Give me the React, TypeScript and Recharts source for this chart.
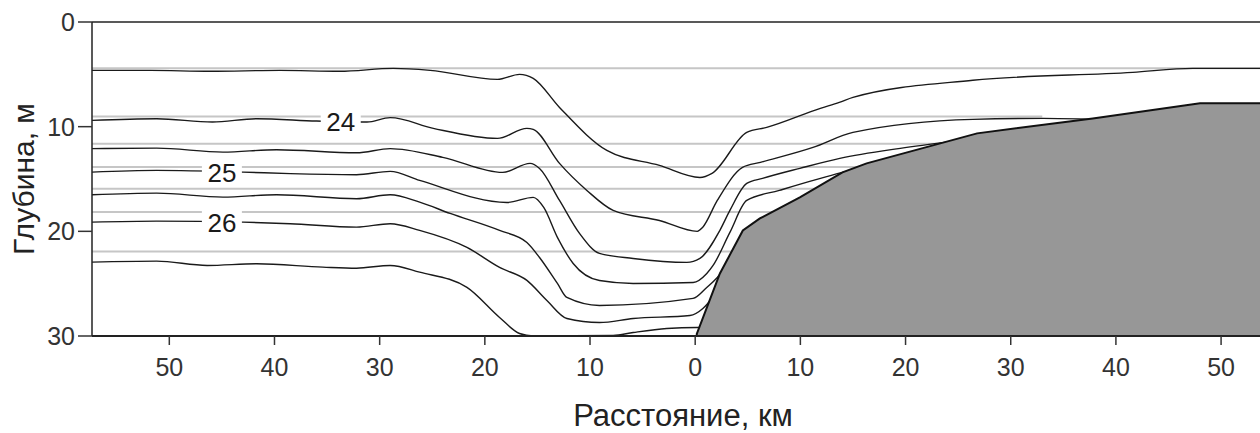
import React from 'react';
import {
  ComposedChart,
  Line,
  Area,
  XAxis,
  YAxis,
  ReferenceLine,
  ReferenceDot,
} from 'recharts';

// Isotherms, pairs of [distance km, depth m]; negative km = left of the 0 mark
const iso235: [number, number][] = [
  [-57.35, 4.62], [-51.8, 4.62], [-46.1, 4.71], [-39.5, 4.62], [-33.8, 4.71],
  [-28.7, 4.43], [-25.2, 4.62], [-18.8, 5.48], [-16.7, 5.0], [-15.4, 5.38],
  [-12.9, 8.16], [-8.4, 12.27], [-3.4, 13.7], [0.45, 14.85], [1.6, 14.46],
  [4.9, 10.55], [6.8, 10.07], [11.9, 8.25], [13.7, 7.68], [15.0, 7.2],
  [26.4, 5.57], [41.6, 4.81], [47.3, 4.43], [53.7, 4.43],
];

const iso24: [number, number][] = [
  [-57.35, 9.4], [-51.2, 9.24], [-45.9, 9.56], [-41.7, 9.24], [-36.0, 9.46],
  [-31.2, 9.56], [-29.0, 9.14], [-24.9, 10.16], [-18.8, 11.12], [-16.0, 10.16],
  [-15.4, 10.26], [-12.9, 13.51], [-10.3, 16.09], [-7.8, 18.0], [-3.4, 18.96],
  [0.2, 20.0], [0.7, 19.63], [2.1, 17.05], [4.5, 13.89], [6.2, 13.41],
  [11.2, 11.98], [15.0, 10.55], [26.4, 9.3], [33.1, 9.21], [38.0, 9.3],
];

const iso245: [number, number][] = [
  [-57.35, 12.1], [-51.2, 12.05], [-44.9, 12.43], [-39.8, 12.2], [-32.2, 12.49],
  [-29.0, 12.1], [-24.0, 12.93], [-18.3, 14.37], [-15.7, 13.51], [-14.8, 13.99],
  [-12.9, 17.05], [-11.0, 20.2], [-9.1, 22.11], [-5.9, 22.59], [-0.8, 22.97],
  [0.45, 22.59], [2.35, 19.9], [3.3, 18.0], [4.9, 15.42], [6.4, 14.94],
  [9.95, 13.98], [13.75, 13.03], [19.5, 12.07], [24.5, 11.4],
];

const iso25: [number, number][] = [
  [-57.35, 14.34], [-51.2, 14.18], [-43.0, 14.34], [-38.5, 14.49], [-32.2, 14.59],
  [-29.0, 14.27], [-26.2, 15.13], [-17.9, 17.24], [-15.4, 16.76], [-14.4, 17.72],
  [-13.1, 20.58], [-11.6, 23.07], [-9.1, 24.7], [-5.9, 24.98], [-0.2, 24.89],
  [1.1, 24.03], [1.7, 23.26], [3.3, 20.1], [4.9, 17.05], [8.0, 16.09],
  [14.0, 14.37], [15.6, 13.98],
];

const iso255: [number, number][] = [
  [-57.35, 16.5], [-51.2, 16.35], [-44.9, 16.73], [-39.8, 16.5], [-32.2, 16.88],
  [-29.0, 16.5], [-26.2, 17.21], [-23.3, 18.29], [-18.6, 19.91], [-16.0, 21.06],
  [-14.8, 22.5], [-13.1, 24.98], [-12.2, 26.32], [-9.1, 27.08], [-0.2, 26.41],
  [1.1, 25.36], [2.1, 24.41], [2.9, 23.36],
];

const iso26: [number, number][] = [
  [-57.35, 19.12], [-51.2, 19.02], [-43.0, 19.12], [-38.5, 19.27], [-32.2, 19.6],
  [-29.0, 19.27], [-26.2, 19.91], [-21.7, 21.54], [-18.6, 23.45], [-16.0, 24.69],
  [-14.1, 26.61], [-12.2, 28.33], [-9.1, 28.71], [-5.9, 28.33], [-0.5, 28.04],
  [0.73, 27.37], [1.6, 26.41],
];

const iso265: [number, number][] = [
  [-57.35, 22.94], [-51.2, 22.85], [-46.4, 23.26], [-41.7, 23.1], [-35.4, 23.42],
  [-32.2, 23.52], [-29.0, 23.26], [-26.2, 23.9], [-21.7, 25.36], [-18.6, 28.23],
  [-16.7, 29.76], [-15.4, 30.0], [-7.8, 29.95], [-5.9, 29.67], [-2.7, 29.29],
  [0.15, 29.19], [0.73, 29.19],
];

// Sea bottom (shelf slope)
const bottom: [number, number][] = [
  [0.15, 30.0], [0.15, 29.8], [2.35, 24.03], [4.53, 19.92], [6.15, 18.77],
  [9.95, 16.76], [14.0, 14.37], [16.3, 13.51], [22.6, 11.79], [26.8, 10.64],
  [37.8, 9.21], [48.0, 7.77], [53.7, 7.77],
];

// Light reference levels: [depth, km where line ends]
const levels: [number, number][] = [
  [4.43, 53.7], [9.02, 33.0], [11.63, 53.7], [13.86, 53.7],
  [15.93, 53.7], [18.16, 53.7], [21.92, 53.7],
];

const contourLabels = [
  { text: '24', km: -33.7, depth: 9.55 },
  { text: '25', km: -45.0, depth: 14.4 },
  { text: '26', km: -45.0, depth: 19.2 },
];

const xTicks = [-50, -40, -30, -20, -10, 0, 10, 20, 30, 40, 50];
const yTicks = [0, 10, 20, 30];
const X_MIN = -57.35;
const X_MAX = 53.7;

const toRows = (pts: [number, number][]) => pts.map(([km, depth]) => ({ km, depth }));

const isotherms = [iso235, iso24, iso245, iso25, iso255, iso26, iso265];

const FONT = '"Liberation Sans", Arial, sans-serif';

const LabelShape = (text: string) => (props: any) => {
  const { cx, cy } = props;
  return (
    <g>
      <rect x={cx - 20} y={cy - 12} width={40} height={24} fill="#fff" />
      <text
        x={cx}
        y={cy + 9}
        textAnchor="middle"
        fontSize={26}
        fontFamily={FONT}
        fill="#1a1a1a"
      >
        {text}
      </text>
    </g>
  );
};

export default function App() {
  return (
    <div style={{ position: 'absolute', left: 0, top: 0, background: '#fff' }}>
      <ComposedChart
        width={1260}
        height={433}
        margin={{ top: 22, right: 0, bottom: 0, left: 0 }}
        style={{ fontFamily: FONT }}
      >
        <XAxis
          type="number"
          dataKey="km"
          domain={[X_MIN, X_MAX]}
          ticks={xTicks}
          allowDataOverflow
          tickFormatter={(v: number) => String(Math.abs(v))}
          height={97}
          tickSize={9}
          tickMargin={13}
          stroke="#222"
          axisLine={{ stroke: '#222', strokeWidth: 2 }}
          tickLine={{ stroke: '#333', strokeWidth: 1.5 }}
          tick={{ fontSize: 25, fill: '#333', fontFamily: FONT }}
          label={{
            content: ({ viewBox }: any) => (
              <text
                x={viewBox.x + viewBox.width / 2 + 7}
                y={viewBox.y + viewBox.height - 7}
                textAnchor="middle"
                fontSize={31}
                fontFamily={FONT}
                fill="#222"
              >
                Расстояние, км
              </text>
            ),
          }}
        />
        <YAxis
          type="number"
          dataKey="depth"
          domain={[0, 30]}
          reversed
          ticks={yTicks}
          allowDataOverflow
          width={92}
          tickSize={14}
          tickMargin={3}
          axisLine={{ stroke: '#222', strokeWidth: 1.5 }}
          tickLine={{ stroke: '#333', strokeWidth: 1.5 }}
          tick={{ fontSize: 25, fill: '#333', fontFamily: FONT }}
          label={{
            content: ({ viewBox }: any) => {
              const cy = viewBox.y + viewBox.height / 2;
              return (
                <text
                  x={34}
                  y={cy}
                  transform={`rotate(-90, 34, ${cy})`}
                  textAnchor="middle"
                  fontSize={30}
                  fontFamily={FONT}
                  fill="#222"
                >
                  Глубина, м
                </text>
              );
            },
          }}
        />
        <ReferenceLine y={0} stroke="#222" strokeWidth={1.5} />

        {levels.map(([d, end], i) => (
          <Line
            key={`lvl-${i}`}
            data={[
              { km: X_MIN, depth: d },
              { km: end, depth: d },
            ]}
            dataKey="depth"
            type="linear"
            stroke="#c6c6c6"
            strokeWidth={2}
            dot={false}
            activeDot={false}
            isAnimationActive={false}
            zIndex={100}
          />
        ))}

        {isotherms.map((pts, i) => (
          <Line
            key={`iso-${i}`}
            data={toRows(pts)}
            dataKey="depth"
            type="monotoneX"
            stroke="#1a1a1a"
            strokeWidth={1.4}
            dot={false}
            activeDot={false}
            isAnimationActive={false}
            zIndex={200}
          />
        ))}

        <Area
          data={toRows(bottom)}
          dataKey="depth"
          type="linear"
          baseValue={30}
          fill="#979797"
          fillOpacity={1}
          stroke="#111"
          strokeWidth={2}
          dot={false}
          activeDot={false}
          isAnimationActive={false}
          zIndex={300}
        />

        {contourLabels.map((l) => (
          <ReferenceDot
            key={l.text}
            x={l.km}
            y={l.depth}
            r={0}
            shape={LabelShape(l.text)}
            zIndex={2000}
          />
        ))}
      </ComposedChart>
    </div>
  );
}
